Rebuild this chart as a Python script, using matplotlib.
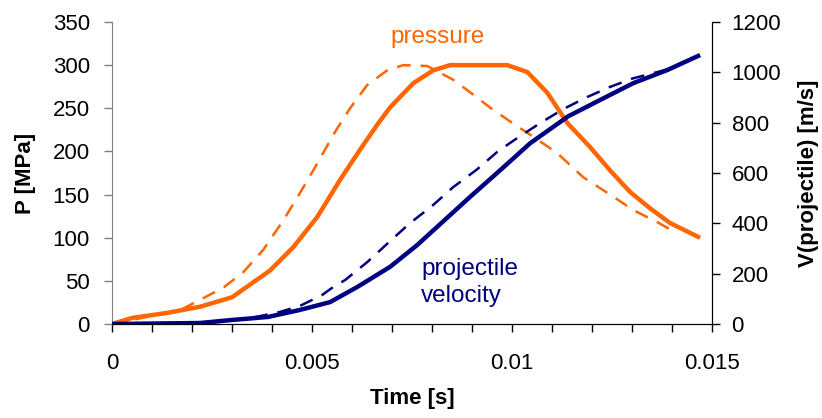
import numpy as np
import matplotlib as mpl
import matplotlib.pyplot as plt
from matplotlib.ticker import MultipleLocator, FixedLocator

mpl.rcParams.update({
    "font.family": ["Liberation Sans", "DejaVu Sans"], "font.size": 16,
})
ORANGE = "#FF6600"
NAVY = "#000080"

# pressure, solid (MPa)
p_t = [0, 0.0005, 0.0014, 0.0022, 0.003, 0.00395, 0.00453, 0.00513, 0.0057,
       0.0062, 0.00663, 0.00695, 0.00753, 0.00803, 0.00845, 0.0092, 0.00988,
       0.01038, 0.01088, 0.01138, 0.01195, 0.01245, 0.01295, 0.01345, 0.01395,
       0.01465]
p_solid = [0, 7, 13, 20, 31, 62, 89, 124, 167,
           202, 231, 251, 279, 294, 300, 300, 300,
           292, 268, 233, 205, 178, 153, 134, 117,
           101]

# pressure, dashed (MPa)
pd_t = [0, 0.0017, 0.0022, 0.00278, 0.00328, 0.00378, 0.00428, 0.0047, 0.00503,
        0.00558, 0.00595, 0.00638, 0.00688, 0.00728, 0.00788, 0.00853, 0.00888,
        0.00953, 0.0102, 0.01053, 0.01113, 0.01178, 0.01245, 0.01303, 0.01363,
        0.01413]
p_dash = [0, 16, 28, 42, 60, 86, 120, 152, 178,
          223, 250, 277, 294, 300, 299, 283, 271,
          248, 227, 217, 198, 170, 150, 132, 118,
          105]

# projectile velocity, solid (m/s)
v_t = [0, 0.0022, 0.003, 0.0039, 0.0047, 0.00545, 0.00613, 0.00695, 0.00763,
       0.00828, 0.00895, 0.00978, 0.01045, 0.0114, 0.0122, 0.01303, 0.01388,
       0.01465]
v_solid = [0, 4, 16, 28, 56, 87, 147, 227, 314,
           408, 505, 622, 718, 825, 890, 957, 1009,
           1065]

# projectile velocity, dashed (m/s)
vd_t = [0, 0.0025, 0.0036, 0.0042, 0.0047, 0.00525, 0.00553, 0.00583, 0.00638,
        0.0069, 0.00745, 0.008, 0.00853, 0.00913, 0.00963, 0.01013, 0.0107,
        0.01128, 0.01188, 0.01245, 0.013, 0.0139, 0.01465]
v_dash = [0, 6, 28, 48, 72, 115, 147, 175, 246,
          322, 401, 469, 544, 615, 684, 739, 798,
          854, 902, 942, 975, 1012, 1068]

fig = plt.figure(figsize=(8.22, 4.18), dpi=100)
ax = fig.add_axes([0.1363, 0.2249, 0.7300, 0.7225])
ax2 = ax.twinx()

dash = (0, (5.5, 4))
ax.plot(pd_t, p_dash, color=ORANGE, lw=1.8, ls=dash, zorder=3)
ax.plot(p_t, p_solid, color=ORANGE, lw=3.2, zorder=4)
ax2.plot(vd_t, v_dash, color=NAVY, lw=1.8, ls=dash, zorder=3)
ax2.plot(v_t, v_solid, color=NAVY, lw=3.2, zorder=4)

ax.set_xlim(0, 0.015)
ax.set_ylim(0, 350)
ax2.set_ylim(0, 1200)
ax.xaxis.set_major_locator(FixedLocator([0, 0.005, 0.01, 0.015]))
ax.set_xticklabels(["0", "0.005", "0.01", "0.015"])
ax.xaxis.set_minor_locator(MultipleLocator(0.001))
ax.yaxis.set_major_locator(MultipleLocator(50))
ax2.yaxis.set_major_locator(MultipleLocator(200))
ax.tick_params(axis="x", which="both", direction="out", length=6, width=1, pad=15)
ax.tick_params(axis="y", direction="out", length=6, width=1, color="#808080", pad=10)
ax2.tick_params(axis="y", direction="out", length=6, width=1, pad=8)

for a in (ax, ax2):
    a.spines["top"].set_visible(False)
ax.spines["left"].set_color("#808080")
ax2.spines["left"].set_visible(False)

ax.set_xlabel("Time [s]", fontweight="bold", labelpad=10)
ax.set_ylabel("P [MPa]", fontweight="bold", labelpad=12)
ax2.set_ylabel("V(projectile) [m/s]", fontweight="bold", labelpad=12)

ax.text(0.00815, 333, "pressure", color=ORANGE, ha="center", va="center",
        fontsize=17.5)
ax.text(0.00773, 48, "projectile\nvelocity", color=NAVY, ha="left", va="center",
        fontsize=17.5, linespacing=1.25)

fig.savefig("out.png", dpi=100)
